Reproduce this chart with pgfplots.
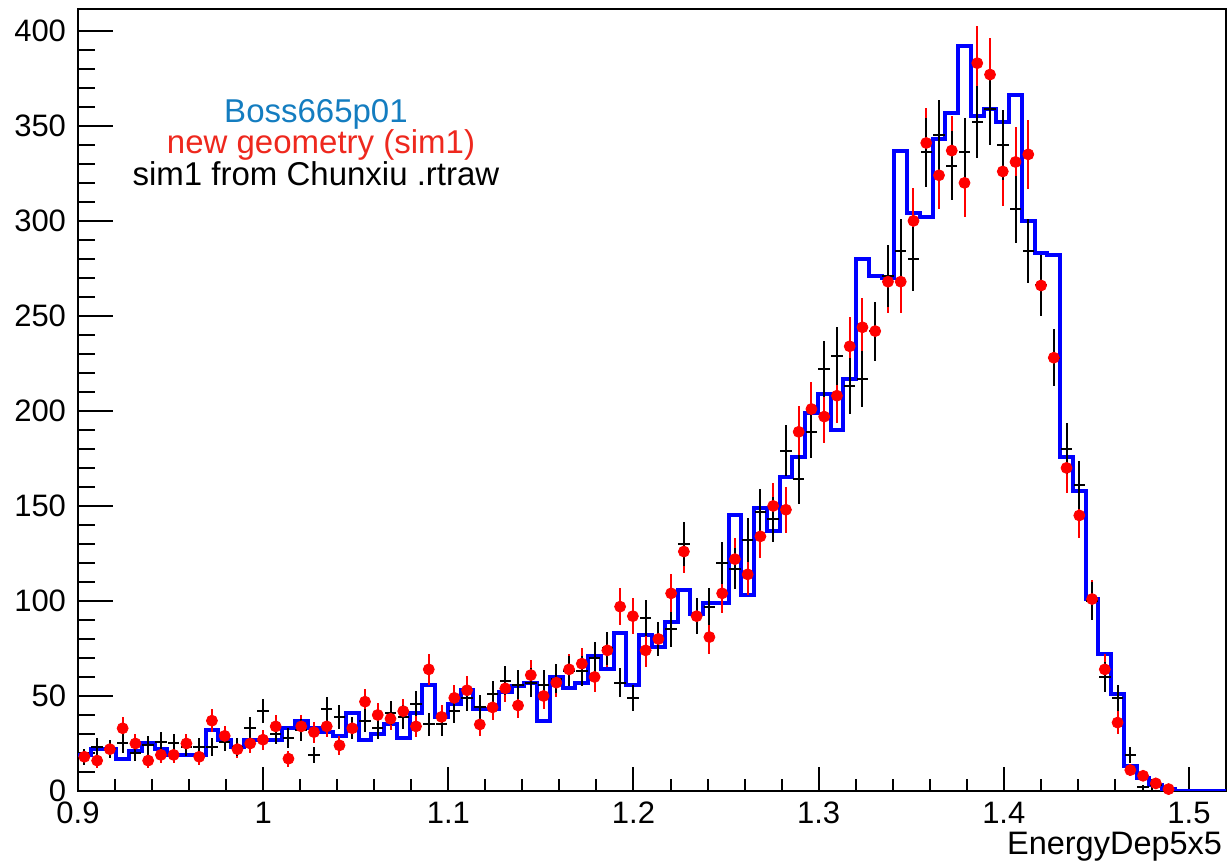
\documentclass[border=0pt]{standalone}
\usepackage{fontspec}
\setmainfont{Liberation Sans}
\usepackage{pgfplots}
\usepackage{pgfplotstable}
\pgfplotsset{compat=1.18}
\definecolor{bosscol}{RGB}{20,125,192}
\definecolor{geomred}{RGB}{238,40,30}

% bin centre, red (new geometry), black (sim1 from Chunxiu)
\pgfplotstableread{
x red black
0.903444 18 18
0.910333 16 23
0.917222 22 22
0.924111 33 25
0.931000 25 20
0.937889 16 24
0.944778 19 26
0.951667 19 25
0.958556 25 23
0.965444 18 23
0.972333 37 23
0.979222 29 26
0.986111 22 23
0.993000 25 33
0.999889 27 42
1.006778 34 30
1.013667 17 28
1.020556 34 32
1.027444 31 19
1.034333 34 43
1.041222 24 39
1.048111 33 33
1.055000 47 37
1.061889 40 33
1.068778 38 41
1.075667 42 39
1.082556 34 46
1.089444 64 35
1.096333 39 35
1.103222 49 42
1.110111 53 49
1.117000 35 44
1.123889 44 51
1.130778 54 58
1.137667 45 56
1.144556 61 57
1.151444 50 56
1.158333 57 59
1.165222 64 63
1.172111 67 63
1.179000 60 70
1.185889 74 75
1.192778 97 57
1.199667 92 49
1.206556 74 91
1.213444 80 80
1.220333 104 85
1.227222 126 130
1.234111 92 92
1.241000 81 97
1.247889 104 120
1.254778 122 117
1.261667 114 132
1.268556 134 147
1.275444 150 143
1.282333 148 179
1.289222 189 164
1.296111 201 189
1.303000 197 222
1.309889 208 229
1.316778 234 213
1.323667 244 217
1.330556 242 242
1.337444 268 271
1.344333 268 284
1.351222 300 280
1.358111 341 336
1.365000 324 345
1.371889 337 329
1.378778 320 336
1.385667 383 352
1.392556 377 359
1.399444 326 340
1.406333 331 306
1.413222 335 284
1.420111 266 266
1.427000 228 228
1.433889 170 180
1.440778 145 161
1.447667 101 100
1.454556 64 60
1.461444 36 49
1.468333 11 19
1.475222 8 2
1.482111 4 3
1.489000 1 1
}\points

% bin low edge, blue histogram (Boss665p01)
\pgfplotstableread{
edge blue
0.900000 19
0.906889 22
0.913778 22
0.920667 17
0.927556 21
0.934444 25
0.941333 22
0.948222 19
0.955111 19
0.962000 19
0.968889 32
0.975778 27
0.982667 23
0.989556 27
0.996444 27
1.003333 27
1.010222 33
1.017111 37
1.024000 33
1.030889 31
1.037778 29
1.044667 41
1.051556 27
1.058444 30
1.065333 35
1.072222 28
1.079111 41
1.086000 56
1.092889 39
1.099778 46
1.106667 53
1.113556 43
1.120444 43
1.127333 52
1.134222 55
1.141111 57
1.148000 37
1.154889 60
1.161778 54
1.168667 57
1.175556 71
1.182444 64
1.189333 83
1.196222 56
1.203111 82
1.210000 76
1.216889 89
1.223778 106
1.230667 93
1.237556 99
1.244444 99
1.251333 145
1.258222 103
1.265111 149
1.272000 137
1.278889 165
1.285778 176
1.292667 199
1.299556 209
1.306444 190
1.313333 217
1.320222 280
1.327111 271
1.334000 270
1.340889 337
1.347778 304
1.354667 302
1.361556 343
1.368444 357
1.375333 392
1.382222 355
1.389111 359
1.396000 352
1.402889 366
1.409778 300
1.416667 283
1.423556 282
1.430444 176
1.437333 158
1.444222 101
1.451111 72
1.458000 51
1.464889 13
1.471778 7
1.478667 3
1.485556 1
1.492444 0
1.499333 0
1.506222 0
1.513111 0
1.520000 0
}\hist

\begin{document}
\begin{tikzpicture}
\begin{axis}[
  at={(0,0)}, anchor=south west,
  scale only axis, width=574pt, height=391pt,
  xmin=0.9, xmax=1.52, ymin=0, ymax=411.5,
  axis line style={line width=1pt},
  tick align=inside, tick pos=left,
  xtick={0.9,1.0,1.1,1.2,1.3,1.4,1.5},
  xticklabels={0.9,1,1.1,1.2,1.3,1.4,1.5},
  minor x tick num=4,
  ytick={0,50,100,150,200,250,300,350,400},
  minor y tick num=4,
  major tick length=17.5pt, minor tick length=8.75pt,
  xtick style={/pgfplots/major tick length=12pt, /pgfplots/minor tick length=6pt},
  every tick/.style={black, line width=1pt},
  /pgf/number format/assume math mode=true,
  tick label style={font=\fontsize{15.5}{18}\selectfont},
  xticklabel style={inner sep=0pt, yshift=-5.3pt},
  yticklabel style={inner sep=0pt, xshift=-5.8pt},
  xlabel={EnergyDep5x5},
  xlabel style={at={(axis description cs:1,0)}, anchor=north east, inner sep=0pt,
    yshift=-20.5pt, xshift=-1.75pt, font=\fontsize{16.25}{19}\selectfont},
]
\addplot[blue, line width=2pt, const plot mark left, mark=none] table[x=edge, y=blue] {\hist};
\addplot[red, only marks, mark=*, mark size=2.75pt,
  error bars/.cd, y dir=both, y explicit,
  error mark=none, error bar style={red, line width=1pt}]
  table[x=x, y=red, y error expr=sqrt(\thisrow{red})] {\points};
\addplot[draw=none, no markers,
  error bars/.cd, x dir=both, x explicit, y dir=both, y explicit,
  error mark=none, error bar style={draw=black, solid, line width=1pt}]
  table[x=x, y=black, x error expr=0.0031, y error expr=sqrt(\thisrow{black})] {\points};
\node[anchor=base, text=bosscol, font=\fontsize{16.5}{19}\selectfont] at (axis description cs:0.2073,0.8546) {Boss665p01};
\node[anchor=base, text=geomred, font=\fontsize{16.5}{19}\selectfont] at (axis description cs:0.2117,0.8146) {new geometry (sim1)};
\node[anchor=base, text=black, font=\fontsize{16.5}{19}\selectfont] at (axis description cs:0.2073,0.7737) {sim1 from Chunxiu .rtraw};
\end{axis}
\pgfresetboundingbox
\path (-39pt,-37.5pt) rectangle (577pt,395.5pt);
\end{tikzpicture}
\end{document}
